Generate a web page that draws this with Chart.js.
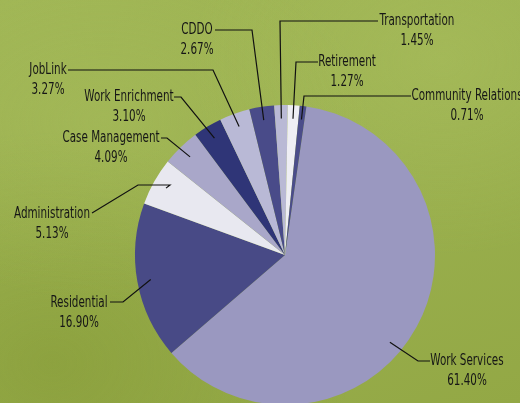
<!DOCTYPE html>
<html>
<head>
<meta charset="utf-8">
<script src="https://cdn.jsdelivr.net/npm/chart.js@4/dist/chart.umd.min.js"></script>
<style>
  html, body { margin: 0; padding: 0; width: 520px; height: 403px; overflow: hidden; }
  body {
    background:
      radial-gradient(ellipse at 20% 30%, rgba(170,190,95,0.35), rgba(0,0,0,0) 45%),
      radial-gradient(ellipse at 85% 15%, rgba(175,195,100,0.4), rgba(0,0,0,0) 40%),
      radial-gradient(ellipse at 10% 90%, rgba(120,140,40,0.35), rgba(0,0,0,0) 45%),
      linear-gradient(160deg, #a0b655 0%, #9ab04e 50%, #93a845 100%);
  }
  #wrap { position: absolute; left: 0; top: 0; width: 520px; height: 420px; }
</style>
</head>
<body>
<div id="wrap"><canvas id="pieChart" width="520" height="420"></canvas></div>
<script>
// Budget share by program
const categories = ["Work Services", "Residential", "Administration", "Case Management", "Work Enrichment",
                    "JobLink", "CDDO", "Transportation", "Retirement", "Community Relations"];
const shares = [61.40, 16.90, 5.13, 4.09, 3.10, 3.27, 2.67, 1.45, 1.27, 0.71];
const sliceColors = ["#9a98c0", "#484a86", "#e8e8f0", "#a9a7c9", "#2f3577",
                     "#b9b9d6", "#494b89", "#b9b9d5", "#eeeef4", "#4b4d8a"];

// leader line layout: elbow, line end and text centre (name line) for each label
const labelLayout = [
    { at: 0.55, elbow: [418, 361], end: [430, 361], text: [467, 361] },
    { at: 0.5,  elbow: [123, 302], end: [110, 302], text: [79, 303] },
    { at: 0.5,  elbow: [170, 185], mid: [138, 185], end: [92, 213], text: [52, 214] },
    { at: 0.5,  elbow: [167, 138], end: [161, 138], text: [111, 138] },
    { at: 0.5,  elbow: [181, 97],  end: [174, 97],  text: [129, 97] },
    { at: 0.5,  elbow: [213, 70],  end: [68, 70],   text: [48, 70] },
    { at: 0.5,  elbow: [252, 30],  end: [215, 30],  text: [197, 30] },
    { at: 0.5,  elbow: [280, 21],  end: [378, 21],  text: [417, 21] },
    { at: 0.5,  elbow: [296, 62],  end: [318, 62],  text: [347, 62] },
    { at: 0.5,  elbow: [304, 96],  end: [411, 96],  text: [467, 96] }
];

// condensed text: squeeze horizontally so it matches the narrow face of the original
const squeezeText = (c, str, x, y) => {
    c.save();
    c.translate(x, y);
    c.scale(0.77, 1);
    c.fillText(str, 0, 0);
    c.restore();
};

// Draws leader lines and the two-line labels
const leaderLabels = {
    id: "leaderLabels",
    afterDatasetsDraw(chart) {
        const c = chart.ctx;
        const arcs = chart.getDatasetMeta(0).data;
        c.save();
        c.strokeStyle = "#111";
        c.lineWidth = 1.2;
        c.fillStyle = "#161616";
        c.font = "15px 'Liberation Sans Narrow', 'DejaVu Sans Condensed', sans-serif";
        c.textAlign = "center";
        c.textBaseline = "middle";
        arcs.forEach((arc, i) => {
            const L = labelLayout[i];
            const ang = arc.startAngle + (arc.endAngle - arc.startAngle) * L.at;
            const r = arc.outerRadius * 0.91;
            const ax = arc.x + Math.cos(ang) * r;
            const ay = arc.y + Math.sin(ang) * r;
            c.beginPath();
            c.moveTo(ax, ay);
            c.lineTo(L.elbow[0], L.elbow[1]);
            if (L.mid) c.lineTo(L.mid[0], L.mid[1]);
            c.lineTo(L.end[0], L.end[1]);
            c.stroke();
            squeezeText(c, categories[i], L.text[0], L.text[1]);
            squeezeText(c, shares[i].toFixed(2) + "%", L.text[0], L.text[1] + 20);
        });
        c.restore();
    }
};

const ctx = document.getElementById("pieChart").getContext("2d");
const pieChart = new Chart(ctx, {
    type: "pie",
    data: {
        labels: categories,
        datasets: [{
            data: shares,
            backgroundColor: sliceColors,
            borderWidth: 0
        }]
    },
    options: {
        responsive: false,
        animation: false,
        rotation: 8.2,
        layout: { padding: { left: 135, right: 85, top: 105, bottom: 15 } },
        plugins: {
            legend: { display: false },
            tooltip: { enabled: false }
        }
    },
    plugins: [leaderLabels]
});
</script>
</body>
</html>
